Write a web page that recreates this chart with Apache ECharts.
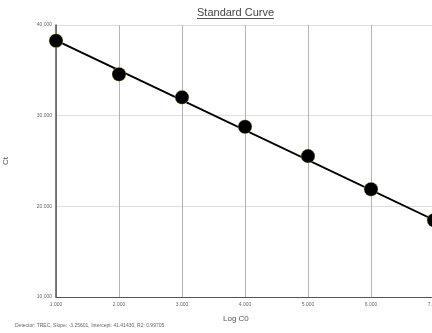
<!DOCTYPE html>
<html>
<head>
<meta charset="utf-8">
<script src="https://cdn.jsdelivr.net/npm/echarts@6/dist/echarts.min.js"></script>
<style>
  html, body { margin: 0; padding: 0; background: #fff; }
  #chart { width: 432px; height: 333px; }
</style>
</head>
<body>
<div id="chart"></div>
<script>
// Standard curve: Ct against log of starting quantity
const logC0 = [1, 2, 3, 4, 5, 6, 7];
const ctValues = [38.27, 34.56, 32.02, 28.77, 25.54, 21.89, 18.47];
// Fitted line end points
const fitX = [1, 7];
const fitY = [38.3, 18.5];
const yTicks = [10, 20, 30, 40];
const footnote = 'Detector: TREC, Slope: -3.25601, Intercept: 41.41430, R2: 0.99705';

const chart = echarts.init(document.getElementById('chart'));
chart.setOption({
  animation: false,
  backgroundColor: '#ffffff',
  grid: {
    left: 56, right: -2, top: 25, bottom: 36,
    containLabel: false,
    outerBoundsMode: 'none'
  },
  xAxis: {
    type: 'value',
    min: 1, max: 7, interval: 1,
    axisLine: { show: true, lineStyle: { color: '#555', width: 1 } },
    axisTick: { show: false },
    axisLabel: { fontSize: 5, color: '#666', margin: 5, formatter: v => v.toFixed(3) },
    splitLine: { show: true, lineStyle: { color: '#b4b4b4', width: 1 } }
  },
  yAxis: {
    type: 'value',
    min: yTicks[0], max: yTicks[yTicks.length - 1], interval: 10,
    name: 'Ct',
    nameLocation: 'middle',
    nameGap: 46,
    nameTextStyle: { fontSize: 8, color: '#555', fontFamily: 'Liberation Sans' },
    axisLine: { show: true, lineStyle: { color: '#555', width: 1.5 } },
    axisTick: { show: false },
    axisLabel: { fontSize: 5, color: '#666', margin: 4, formatter: v => v.toFixed(3) },
    splitLine: { show: true, lineStyle: { color: '#dedede', width: 1 } }
  },
  graphic: [
    {
      type: 'text', left: 197, top: 7,
      style: { text: 'Standard Curve', fontSize: 11, fill: '#444', fontFamily: 'Liberation Sans' }
    },
    {
      type: 'line', shape: { x1: 197, y1: 18.5, x2: 274, y2: 18.5 },
      style: { stroke: '#555', lineWidth: 1 }
    },
    {
      type: 'text', left: 223, top: 315,
      style: { text: 'Log C0', fontSize: 8, fill: '#555', fontFamily: 'Liberation Sans' }
    },
    {
      type: 'text', left: 15, top: 323,
      style: { text: footnote, fontSize: 5, fill: '#666', fontFamily: 'Liberation Sans' }
    }
  ],
  series: [
    {
      type: 'line',
      data: fitX.map((x, i) => [x, fitY[i]]),
      symbol: 'none',
      lineStyle: { color: '#000', width: 2 },
      z: 2
    },
    {
      type: 'scatter',
      data: logC0.map((x, i) => [x, ctValues[i]]),
      symbolSize: 14,
      itemStyle: { color: '#000', opacity: 1, borderColor: 'rgba(240,230,120,0.6)', borderWidth: 0.6 },
      z: 3
    }
  ]
});
</script>
</body>
</html>
